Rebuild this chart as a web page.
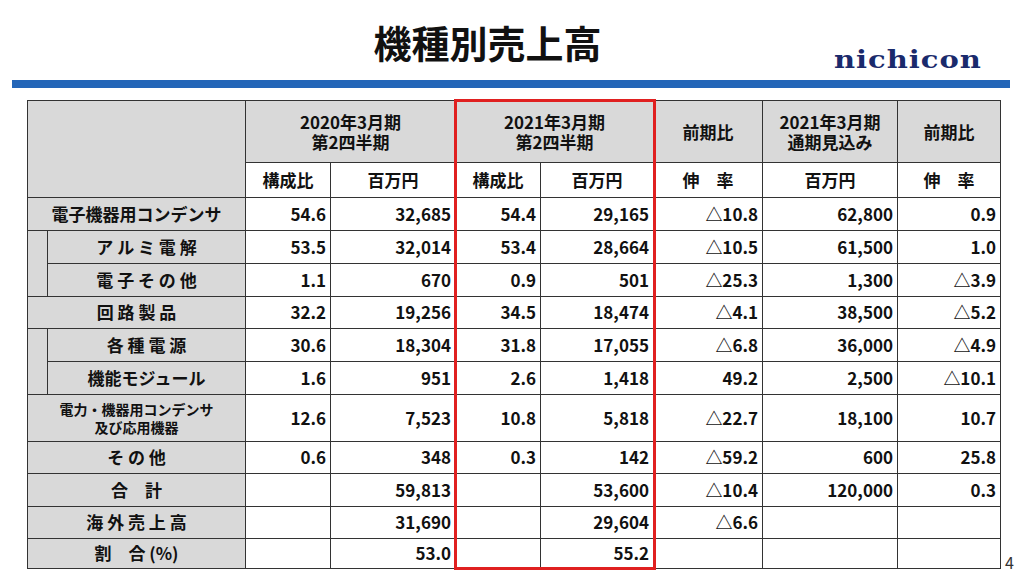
<!DOCTYPE html>
<html><head><meta charset="utf-8">
<script src="https://cdn.jsdelivr.net/npm/chart.js@4"></script>
<style>
body{margin:0;width:1021px;height:576px;background:#fff;font-family:"Noto Sans CJK JP","Noto Sans",sans-serif;position:relative;overflow:hidden}
#title{position:absolute;left:0;width:975px;top:14px;text-align:center;font-size:38px;font-weight:bold;color:#111}
#logo{position:absolute;left:834px;top:45px;font-family:"DejaVu Serif",serif;font-weight:bold;font-size:29px;color:#1a2a6c;letter-spacing:1px;transform:scaleY(0.85);transform-origin:top left}
#bar{position:absolute;left:12px;top:80px;width:998px;height:8px;background:#2466b8}
table{position:absolute;left:27px;top:100px;border-collapse:collapse;table-layout:fixed;font-weight:bold;font-size:17px;color:#111}
td{border:1px solid #333;padding:0 4px;text-align:right;white-space:nowrap;line-height:1.1}
td.h{background:#d9d9d9;text-align:center;line-height:1}
td.h div{height:20px;line-height:20px}
td.c{text-align:center}
td.lab{background:#d9d9d9;text-align:center}
#red{position:absolute;left:454px;top:99px;width:196px;height:465px;border:3px solid #e02020}
#pg{position:absolute;left:1005px;top:550px;font-size:16px;color:#333}
</style></head><body>
<div id="title">機種別売上高</div>
<div id="logo">nichicon</div>
<div id="bar"></div>
<table id="t"></table>
<div id="red"></div>
<div id="pg">4</div>
<script>
const categories=["電子機器用コンデンサ","ア ル ミ 電 解","電 子 そ の 他","回 路 製 品","各 種 電 源","機能モジュール","電力・機器用コンデンサ<br>及び応用機器","そ の 他","合　計","海 外 売 上 高","割　合 (%)"];
const share2020=["54.6","53.5","1.1","32.2","30.6","1.6","12.6","0.6","","",""];
const sales2020=["32,685","32,014","670","19,256","18,304","951","7,523","348","59,813","31,690","53.0"];
const share2021=["54.4","53.4","0.9","34.5","31.8","2.6","10.8","0.3","","",""];
const sales2021=["29,165","28,664","501","18,474","17,055","1,418","5,818","142","53,600","29,604","55.2"];
const growth=["△10.8","△10.5","△25.3","△4.1","△6.8","49.2","△22.7","△59.2","△10.4","△6.6",""];
const forecast=["62,800","61,500","1,300","38,500","36,000","2,500","18,100","600","120,000","",""];
const fgrowth=["0.9","1.0","△3.9","△5.2","△4.9","△10.1","10.7","25.8","0.3","",""];
const colW=[20,198,85,125,85,113,109,135,103];
const rowH=[33,33,33,32,33,33,47,32,33,32,30];
const two=(a,b)=>`<div>${a}</div><div>${b}</div>`;
let h='<colgroup>'+colW.map(w=>`<col style="width:${w}px">`).join('')+'</colgroup>';
h+=`<tr style="height:62px"><td class="h" colspan="2" rowspan="2"></td><td class="h" colspan="2">${two('2020年3月期','第2四半期')}</td><td class="h" colspan="2">${two('2021年3月期','第2四半期')}</td><td class="h">前期比</td><td class="h">${two('2021年3月期','通期見込み')}</td><td class="h">前期比</td></tr>`;
h+=`<tr style="height:35px"><td class="c">構成比</td><td class="c">百万円</td><td class="c">構成比</td><td class="c">百万円</td><td class="c">伸　率</td><td class="c">百万円</td><td class="c">伸　率</td></tr>`;
const sub=[1,2,4,5];
categories.forEach((c,i)=>{
  h+=`<tr style="height:${rowH[i]}px">`;
  if(sub.includes(i)){
    if(i===1||i===4) h+=`<td class="lab" rowspan="2"></td>`;
    h+=`<td class="lab">${c}</td>`;
  } else h+=`<td class="lab" colspan="2" style="${i===6?'font-size:14px;line-height:1.3':''}">${c}</td>`;
  [share2020[i],sales2020[i],share2021[i],sales2021[i],growth[i],forecast[i],fgrowth[i]].forEach(v=>h+=`<td>${v}</td>`);
  h+='</tr>';
});
document.getElementById('t').innerHTML=h;
</script>
</body></html>
